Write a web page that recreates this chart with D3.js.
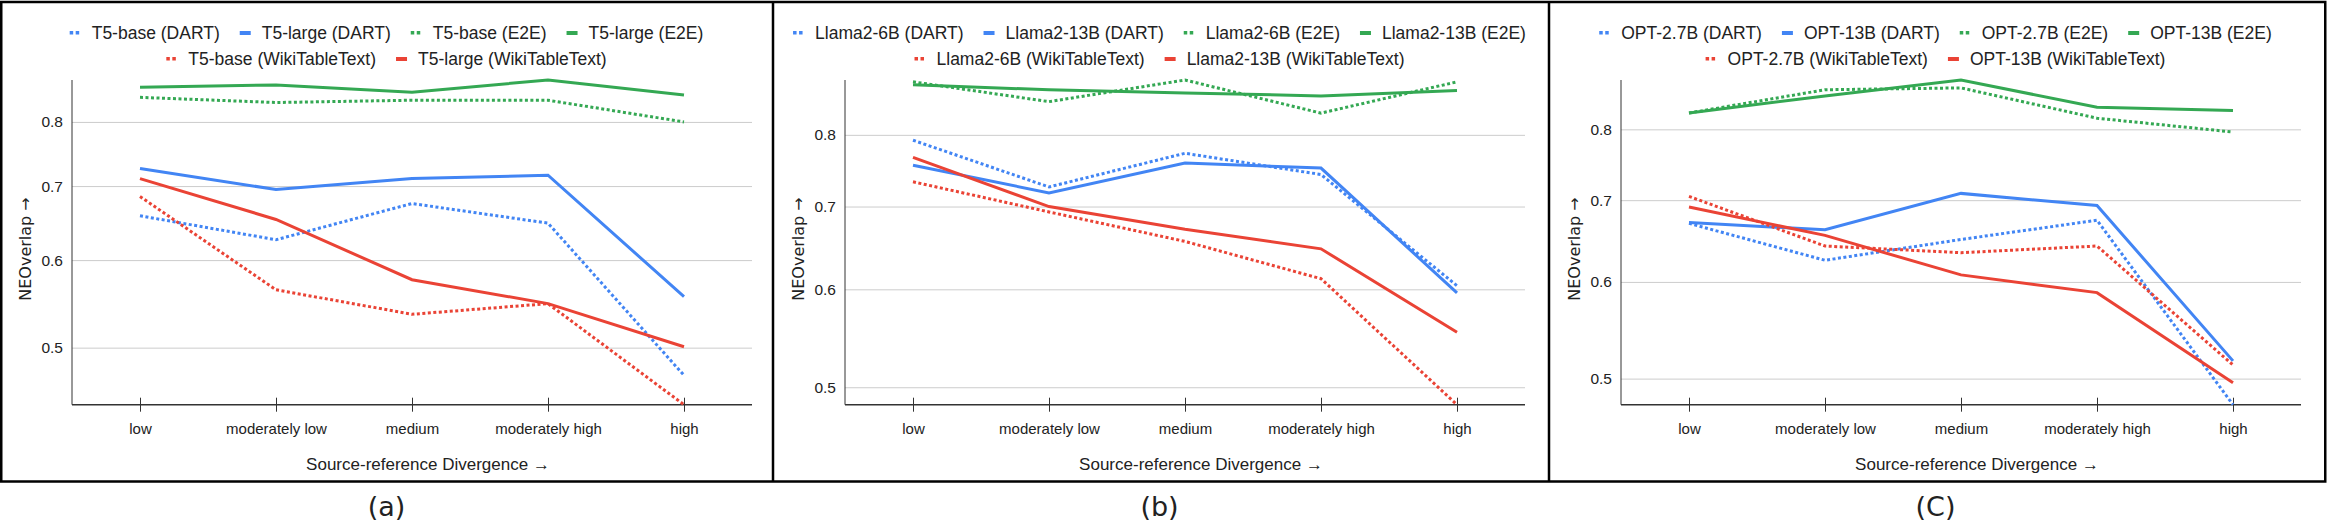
<!DOCTYPE html>
<html>
<head>
<meta charset="utf-8">
<script src="https://cdn.jsdelivr.net/npm/d3@7"></script>
<style>
    body { margin: 0; background: #fff; }
    svg { display: block; }
    text { font-family: "Liberation Sans", Arial, sans-serif; fill: #222; }
</style>
</head>
<body>
<svg id="chart" width="2328" height="522"></svg>
<script>
const categories = ["low", "moderately low", "medium", "moderately high", "high"];
const yTicks = [0.5, 0.6, 0.7, 0.8];
const panelLabels = ["(a)", "(b)", "(C)"];
const datasets = ["DART", "E2E", "WikiTableText"];

const t5Models = ["T5-base", "T5-large"];
const llamaModels = ["Llama2-6B", "Llama2-13B"];
const optModels = ["OPT-2.7B", "OPT-13B"];

// NEOverlap per divergence bucket, [smaller model, larger model]
const t5Dart = [[0.658, 0.626, 0.675, 0.648, 0.472], [0.726, 0.695, 0.711, 0.716, 0.556]];
const t5E2e = [[0.842, 0.833, 0.837, 0.837, 0.800], [0.860, 0.864, 0.851, 0.873, 0.846]];
const t5Wiki = [[0.685, 0.564, 0.536, 0.548, 0.444], [0.711, 0.653, 0.576, 0.548, 0.501]];

const llamaDart = [[0.792, 0.726, 0.773, 0.743, 0.604], [0.756, 0.718, 0.759, 0.752, 0.596]];
const llamaE2e = [[0.883, 0.851, 0.886, 0.833, 0.883], [0.878, 0.870, 0.865, 0.860, 0.869]];
const llamaWiki = [[0.733, 0.693, 0.656, 0.612, 0.484], [0.767, 0.700, 0.671, 0.647, 0.554]];

const optDart = [[0.670, 0.625, 0.650, 0.674, 0.476], [0.671, 0.662, 0.709, 0.693, 0.517]];
const optE2e = [[0.825, 0.862, 0.865, 0.817, 0.796], [0.825, 0.852, 0.878, 0.834, 0.829]];
const optWiki = [[0.705, 0.642, 0.634, 0.642, 0.513], [0.691, 0.655, 0.608, 0.588, 0.496]];

const panels = [
    {models: t5Models, values: [t5Dart, t5E2e, t5Wiki]},
    {models: llamaModels, values: [llamaDart, llamaE2e, llamaWiki]},
    {models: optModels, values: [optDart, optE2e, optWiki]}
];

const colors = {DART: "#4285f4", E2E: "#34a853", WikiTableText: "#ea4335"};
const panelX = [0, 773, 1549];
const panelW = 776;
const plot = {left: 72, width: 680, top: 80, bottom: 404.7};

const svg = d3.select("#chart");

panels.forEach((p, i) => drawPanel(p, i));

// frames round the three panels
svg.append("rect")
    .attr("x", 1.25).attr("y", 2)
    .attr("width", 2324).attr("height", 479.5)
    .attr("fill", "none").attr("stroke", "#000").attr("stroke-width", 2.5);
panelX.slice(1).forEach(x => {
    svg.append("line")
        .attr("x1", x).attr("x2", x).attr("y1", 2).attr("y2", 481.5)
        .attr("stroke", "#000").attr("stroke-width", 2.5);
});

function drawPanel(panel, i) {
    const ox = panelX[i];
    const g = svg.append("g").attr("transform", `translate(${ox},0)`);

    const series = [];
    datasets.forEach((ds, di) => {
        panel.models.forEach((m, mi) => {
            series.push({
                name: `${m} (${ds})`,
                color: colors[ds],
                dotted: mi === 0,
                values: panel.values[di][mi]
            });
        });
    });

    const all = series.flatMap(s => s.values);
    const x = d3.scalePoint()
        .domain(categories)
        .range([plot.left, plot.left + plot.width])
        .padding(0.5);
    const y = d3.scaleLog()
        .domain(d3.extent(all))
        .range([plot.bottom, plot.top]);

    // gridlines + tick labels
    const yAxis = g.append("g")
        .attr("transform", `translate(${plot.left},0)`)
        .call(d3.axisLeft(y).tickValues(yTicks).tickFormat(d3.format(".1f"))
            .tickSize(-plot.width).tickPadding(9));
    yAxis.select(".domain").remove();
    yAxis.selectAll(".tick line").attr("stroke", "#cccccc");
    yAxis.selectAll(".tick text")
        .style("font-family", "'Liberation Sans', Arial, sans-serif")
        .style("font-size", "15.5px").attr("fill", "#222");

    g.append("line")
        .attr("x1", plot.left).attr("x2", plot.left)
        .attr("y1", plot.top).attr("y2", plot.bottom)
        .attr("stroke", "#333").attr("stroke-width", 1);

    // category axis
    const xAxis = g.append("g")
        .attr("transform", `translate(0,${plot.bottom})`)
        .call(d3.axisBottom(x).tickSizeOuter(0));
    xAxis.select(".domain")
        .attr("d", `M${plot.left},0H${plot.left + plot.width}`)
        .attr("stroke", "#333").attr("stroke-width", 1.4);
    xAxis.selectAll(".tick line").attr("y1", -7).attr("y2", 7).attr("stroke", "#333");
    xAxis.selectAll(".tick text")
        .attr("y", 24).attr("dy", "0.35em")
        .style("font-family", "'Liberation Sans', Arial, sans-serif")
        .style("font-size", "15px").attr("fill", "#222");

    const line = d3.line()
        .x((d, k) => x(categories[k]))
        .y(d => y(d));

    g.append("g")
        .selectAll("path")
        .data(series)
        .enter()
        .append("path")
        .attr("d", d => line(d.values))
        .attr("fill", "none")
        .attr("stroke", d => d.color)
        .attr("stroke-width", 3)
        .attr("stroke-dasharray", d => (d.dotted ? "3 2.5" : null));

    // axis titles
    g.append("text")
        .attr("transform", `translate(25,249) rotate(-90)`)
        .attr("text-anchor", "middle")
        .attr("dominant-baseline", "central")
        .style("font-family", "'DejaVu Sans', sans-serif")
        .style("font-size", "16px")
        .text("NEOverlap \u2192");

    g.append("text")
        .attr("x", plot.left + plot.width / 2 + 16)
        .attr("y", 464)
        .attr("text-anchor", "middle")
        .attr("dominant-baseline", "central")
        .style("font-size", "17px")
        .text("Source-reference Divergence \u2192");

    g.append("text")
        .attr("x", panelW / 2 - 1.5)
        .attr("y", 506)
        .attr("text-anchor", "middle")
        .attr("dominant-baseline", "central")
        .style("font-family", "'DejaVu Sans', sans-serif")
        .style("font-size", "27px")
        .text(panelLabels[i]);

    drawLegend(g, series.slice(0, 4), 33);
    drawLegend(g, series.slice(4), 59);
}

function drawLegend(g, items, cy) {
    const row = g.append("g");
    let cx = 0;
    items.forEach(s => {
        const item = row.append("g").attr("transform", `translate(${cx},0)`);
        if (s.dotted) {
            [0, 6].forEach(dx => {
                item.append("rect")
                    .attr("x", dx).attr("y", cy - 2)
                    .attr("width", 3.5).attr("height", 3.5)
                    .attr("fill", s.color);
            });
        } else {
            item.append("rect")
                .attr("x", 0).attr("y", cy - 2)
                .attr("width", 11).attr("height", 4)
                .attr("fill", s.color);
        }
        const t = item.append("text")
            .attr("x", 22).attr("y", cy)
            .attr("dominant-baseline", "central")
            .style("font-size", "17.5px")
            .text(s.name);
        cx += 22 + t.node().getComputedTextLength() + 20;
    });
    const total = cx - 20;
    row.attr("transform", `translate(${panelW / 2 - 1.5 - total / 2},0)`);
}
</script>
</body>
</html>
